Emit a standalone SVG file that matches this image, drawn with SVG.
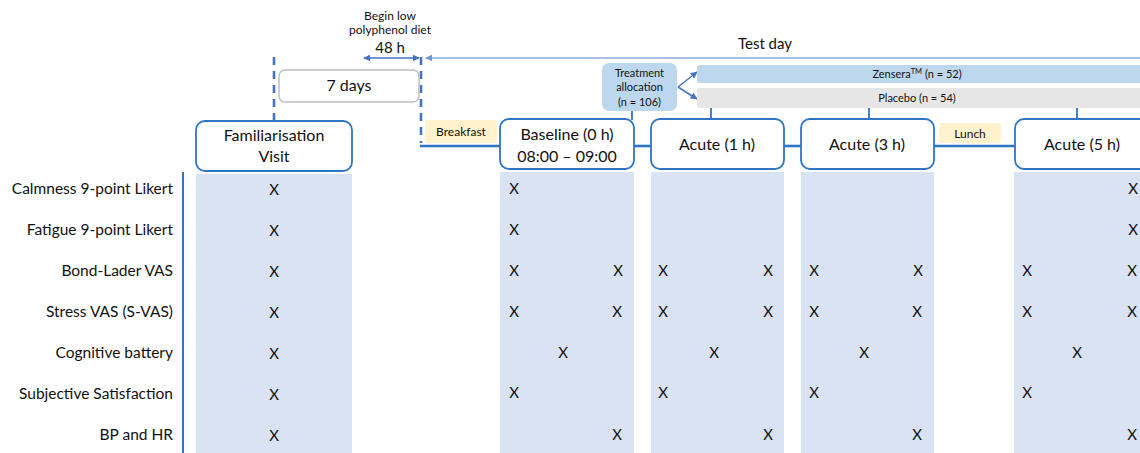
<svg xmlns="http://www.w3.org/2000/svg" width="1140" height="453" viewBox="0 0 1140 453">
<style>
text{font-family:Lato,"Open Sans","Liberation Sans",sans-serif;fill:#111}
.box{fill:#fff;stroke:#2e75c6;stroke-width:1.8}
.col{fill:#dae3f3}
.lbl{font-size:15.5px;text-anchor:end}
.x{font-size:15px;text-anchor:middle}
.bt{font-size:16px;text-anchor:middle}
.sm{font-size:12px;text-anchor:middle}
.xs{font-size:11px;text-anchor:middle}
.conn{stroke:#2e75c6;stroke-width:2.6;fill:none}
.thin{stroke:#2e75c6;stroke-width:1.8;fill:none}
.dash{stroke:#4472c4;stroke-width:2.6;stroke-dasharray:8,6;fill:none}
</style>
<defs>
<marker id="ah" viewBox="0 0 10 10" refX="9" refY="5" markerWidth="7" markerHeight="7" orient="auto-start-reverse" markerUnits="userSpaceOnUse"><path d="M0,0 L10,5 L0,10 z" fill="#4472c4"/></marker>
<marker id="ahl" viewBox="0 0 10 10" refX="9" refY="5" markerWidth="7" markerHeight="7" orient="auto-start-reverse" markerUnits="userSpaceOnUse"><path d="M0,0 L10,5 L0,10 z" fill="#6f93d4"/></marker>
</defs>

<g id="columns">
<rect class="col" x="196" y="174" width="156" height="279"/>
<rect class="col" x="500" y="172" width="134" height="281"/>
<rect class="col" x="651" y="172" width="133" height="281"/>
<rect class="col" x="801" y="172" width="133" height="281"/>
<rect class="col" x="1014" y="172" width="134" height="281"/>
</g>

<g id="connectors">
<line class="dash" x1="274" y1="57" x2="274" y2="121"/>
<polyline class="dash" points="421,57 421,143"/>
<line class="conn" x1="420" y1="146" x2="500" y2="146"/>
<line class="conn" x1="634" y1="146" x2="651" y2="146"/>
<line class="conn" x1="784" y1="146" x2="801" y2="146"/>
<line class="conn" x1="934" y1="146" x2="1015" y2="146"/>
<line x1="183" y1="172" x2="183" y2="453" stroke="#2e75c6" stroke-width="2"/>
<line x1="364" y1="58" x2="419" y2="58" stroke="#4472c4" stroke-width="1.5" marker-start="url(#ah)" marker-end="url(#ah)"/>
<line x1="426" y1="58" x2="1140" y2="58" stroke="#8faadc" stroke-width="1.4" marker-start="url(#ahl)"/>
<line x1="678" y1="87" x2="697" y2="72" stroke="#4472c4" stroke-width="1.5" marker-end="url(#ah)"/>
<line x1="678" y1="87" x2="697" y2="99" stroke="#4472c4" stroke-width="1.5" marker-end="url(#ah)"/>
<line class="thin" x1="632" y1="111" x2="632" y2="120"/>
<line class="thin" x1="711" y1="108" x2="711" y2="120"/>
<line class="thin" x1="869" y1="108" x2="869" y2="120"/>
<line class="thin" x1="1077" y1="108" x2="1077" y2="120"/>
</g>

<g id="header-text">
<text class="sm" x="390" y="20">Begin low</text>
<text class="sm" x="390" y="34">polyphenol diet</text>
<text x="390" y="53" style="font-size:15px;text-anchor:middle">48 h</text>
<text x="765" y="49" style="font-size:15px;text-anchor:middle">Test day</text>
</g>

<g id="days7">
<rect x="279" y="70" width="140" height="32" rx="6" fill="#fff" stroke="#bfbfbf" stroke-width="1.5"/>
<text class="bt" x="349" y="91">7 days</text>
</g>

<g id="familiarisation">
<rect class="box" x="196" y="121" width="156" height="50" rx="9"/>
<text class="bt" x="274" y="141">Familiarisation</text>
<text class="bt" x="274" y="162">Visit</text>
</g>

<g id="breakfast">
<rect x="425" y="120" width="72" height="23" rx="3" fill="#fff2cc"/>
<text class="sm" x="461" y="136">Breakfast</text>
</g>

<g id="baseline">
<rect class="box" x="500" y="119" width="134" height="50" rx="9"/>
<text class="bt" x="567" y="140">Baseline (0 h)</text>
<text class="bt" x="567" y="162">08:00 – 09:00</text>
</g>

<g id="acute1">
<rect class="box" x="651" y="119" width="133" height="50" rx="9"/>
<text class="bt" x="717" y="150">Acute (1 h)</text>
</g>

<g id="acute3">
<rect class="box" x="801" y="119" width="133" height="50" rx="9"/>
<text class="bt" x="867" y="150">Acute (3 h)</text>
</g>

<g id="lunch">
<rect x="939" y="123" width="62" height="20" rx="3" fill="#fff2cc"/>
<text class="sm" x="970" y="138">Lunch</text>
</g>

<g id="acute5">
<rect class="box" x="1015" y="119" width="134" height="50" rx="9"/>
<text class="bt" x="1082" y="150">Acute (5 h)</text>
</g>

<g id="treatment">
<rect x="602" y="63" width="75" height="48" rx="7" fill="#bdd7ee"/>
<text class="xs" x="639.5" y="77">Treatment</text>
<text class="xs" x="639.5" y="91">allocation</text>
<text class="xs" x="639.5" y="106">(n = 106)</text>
</g>

<g id="zensera">
<rect x="697" y="65" width="450" height="18" rx="3" fill="#bdd7ee"/>
<text class="xs" x="917" y="78">Zensera<tspan dy="-4" style="font-size:7.5px">TM</tspan><tspan dy="4"> (n = 52)</tspan></text>
</g>

<g id="placebo">
<rect x="697" y="88" width="450" height="20" rx="3" fill="#e7e6e6"/>
<text class="xs" x="917" y="102">Placebo (n = 54)</text>
</g>

<g id="row-labels">
<text class="lbl" x="173" y="194">Calmness 9-point Likert</text>
<text class="lbl" x="173" y="235">Fatigue 9-point Likert</text>
<text class="lbl" x="173" y="276">Bond-Lader VAS</text>
<text class="lbl" x="173" y="317">Stress VAS (S-VAS)</text>
<text class="lbl" x="173" y="358">Cognitive battery</text>
<text class="lbl" x="173" y="399">Subjective Satisfaction</text>
<text class="lbl" x="173" y="440">BP and HR</text>
</g>

<g id="marks">
<text class="x" x="274" y="195">X</text>
<text class="x" x="274" y="236">X</text>
<text class="x" x="274" y="277">X</text>
<text class="x" x="274" y="318">X</text>
<text class="x" x="274" y="359">X</text>
<text class="x" x="274" y="400">X</text>
<text class="x" x="274" y="441">X</text>

<text class="x" x="514" y="194">X</text>
<text class="x" x="514" y="235">X</text>
<text class="x" x="514" y="276">X</text>
<text class="x" x="618" y="276">X</text>
<text class="x" x="514" y="317">X</text>
<text class="x" x="617" y="317">X</text>
<text class="x" x="563" y="358">X</text>
<text class="x" x="514" y="398">X</text>
<text class="x" x="617" y="440">X</text>

<text class="x" x="663" y="276">X</text>
<text class="x" x="768" y="276">X</text>
<text class="x" x="663" y="317">X</text>
<text class="x" x="768" y="317">X</text>
<text class="x" x="714" y="358">X</text>
<text class="x" x="663" y="398">X</text>
<text class="x" x="768" y="440">X</text>

<text class="x" x="814" y="276">X</text>
<text class="x" x="918" y="276">X</text>
<text class="x" x="814" y="317">X</text>
<text class="x" x="917" y="317">X</text>
<text class="x" x="864" y="358">X</text>
<text class="x" x="814" y="398">X</text>
<text class="x" x="917" y="440">X</text>

<text class="x" x="1133" y="194">X</text>
<text class="x" x="1133" y="235">X</text>
<text class="x" x="1027" y="276">X</text>
<text class="x" x="1132" y="276">X</text>
<text class="x" x="1027" y="317">X</text>
<text class="x" x="1132" y="317">X</text>
<text class="x" x="1077" y="358">X</text>
<text class="x" x="1027" y="398">X</text>
<text class="x" x="1132" y="440">X</text>
</g>
</svg>
